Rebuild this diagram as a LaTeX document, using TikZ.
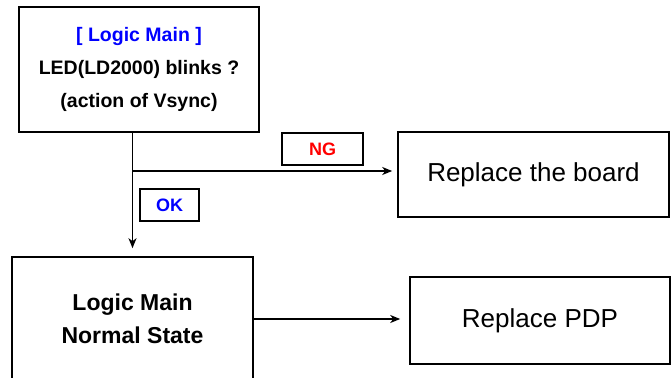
\documentclass[tikz,border=0pt]{standalone}
\usepackage{fontspec}
\setmainfont{Liberation Sans}
\usetikzlibrary{arrows.meta}
\definecolor{lblblue}{RGB}{0,0,255}
\definecolor{lblred}{RGB}{255,0,0}
\tikzset{
  box/.style={draw=black, line width=1.6pt, rectangle, inner sep=0pt, align=center},
  tag/.style={draw=black, line width=1.6pt, rectangle, inner sep=0pt, font=\fontsize{18}{20}\selectfont\bfseries},
  arr/.style={line width=1.5pt, -{Stealth[length=10pt,width=8pt,inset=3pt]}},
}
\begin{document}
\begin{tikzpicture}[x=1pt,y=-1pt]
\clip (0,0) rectangle (671,377);
\fill[white] (0,0) rectangle (671,377);
\node[box, minimum width=240pt, minimum height=125pt, font=\fontsize{19.5}{33}\selectfont\bfseries] (main) at (139,69.5)
  {\textcolor{lblblue}{[ Logic Main ]}\\LED(LD2000) blinks ?\\(action of Vsync)};
\node[box, minimum width=271pt, minimum height=85pt, font=\fontsize{26}{30}\selectfont] (board) at (533.5,174.5) {Replace the board};
\node[tag, minimum width=81pt, minimum height=32pt, text=lblred] (ng) at (322.5,149) {NG};
\node[tag, minimum width=59pt, minimum height=32pt, text=lblblue] (ok) at (169.5,205) {OK};
\node[box, minimum width=241pt, minimum height=124pt, font=\fontsize{23}{33}\selectfont\bfseries] (normal) at (132.5,319) {Logic Main\\Normal State};
\node[box, minimum width=260pt, minimum height=87pt, font=\fontsize{26}{30}\selectfont] (pdp) at (540,320.5) {Replace PDP};
\coordinate (branch) at (132.5,171);
\draw[arr, shorten >=8pt] (main.south -| normal.north) -- (normal.north);
\draw[arr, shorten >=5pt] (branch) -- (branch -| board.west);
\draw[arr, shorten >=9pt] (normal.east) -- (pdp.west |- normal.east);
\end{tikzpicture}
\end{document}
